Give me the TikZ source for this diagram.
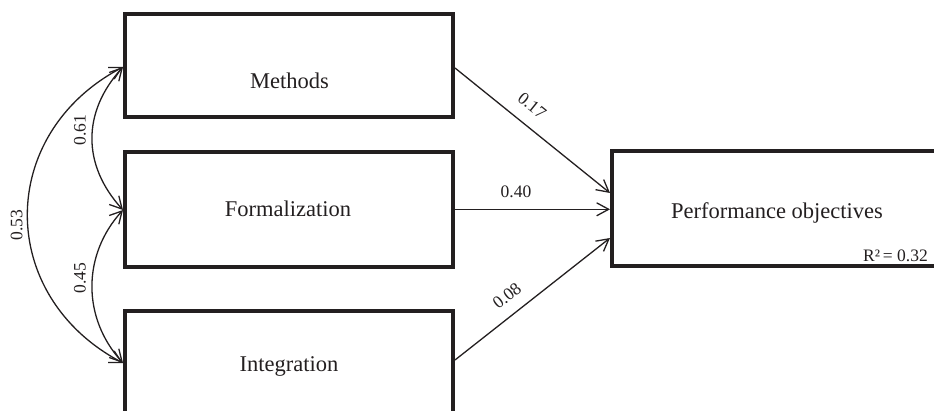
\documentclass[tikz,border=0pt]{standalone}
\usepackage{fontspec}
\setmainfont{Liberation Serif}
\usetikzlibrary{arrows.meta}
\definecolor{ink}{HTML}{231F20}
\tikzset{
  varbox/.style={draw=ink, line width=4pt, rectangle, minimum width=328pt, inner sep=0pt},
  boxtext/.style={anchor=base, inner sep=0pt, text=ink, font=\fontsize{22.5}{26}\selectfont},
  coef/.style={inner sep=0pt, text=ink, font=\fontsize{17.5}{20}\selectfont},
  barb/.tip={Straight Barb[length=12pt, width=13pt, line width=1.3pt]},
  effect/.style={draw=ink, line width=1.3pt, -{barb}},
  covar/.style={draw=ink, line width=1.3pt, {barb}-{barb}}
}
\begin{document}
\begin{tikzpicture}[x=1pt, y=-1pt]
  \useasboundingbox (0,0) rectangle (934,411);
  \clip (0,0) rectangle (934,411);

  % predictor boxes and outcome box
  \node[varbox, minimum height=103pt] (m) at (289,65.5) {};
  \node[varbox, minimum height=114.5pt] (f) at (289,209.3) {};
  \node[varbox, minimum height=104pt] (i) at (289,363) {};
  \node[varbox, minimum height=115pt] (p) at (776,208.5) {};

  \node[boxtext] (mt) at (289.5,88.3) {Methods};
  \node[boxtext] (ft) at (288,216.7) {Formalization};
  \node[boxtext] (it) at (289,371) {Integration};
  \node[boxtext] (pt) at (777,219) {Performance objectives};
  \node[coef, anchor=base east] (r2) at (928,261.7) {R²\,= 0.32};

  % connector end points
  \coordinate (mR) at ([yshift=-2.5pt]m.east);
  \coordinate (iR) at ([yshift=3pt]i.east);
  \coordinate (pA) at ([yshift=15.5pt]p.west);
  \coordinate (pC) at ([yshift=-29.5pt]p.west);
  \coordinate (mL) at ([yshift=-1.5pt]m.west);
  \coordinate (fL) at ([yshift=-0.7pt]f.west);
  \coordinate (iL) at (i.west);

  % direct effects
  \draw[effect] (mR) -- (pA);
  \draw[effect] (f.east) -- (f.east -| p.west);
  \draw[effect] (iR) -- (pC);

  % correlations between predictors
  \draw[covar] (mL) .. controls +(-41,45) and +(-41,-45) .. (fL);
  \draw[covar] (fL) .. controls +(-41,45) and +(-41,-45) .. (iL);
  \draw[covar] (mL) .. controls +(-127,67) and +(-127,-67) .. (iL);

  % coefficients
  \node[coef, rotate=-38.9] (c17) at (532,105.5) {0.17};
  \node[coef] (c40) at (516,191.5) {0.40};
  \node[coef, rotate=38.2] (c08) at (507,296) {0.08};
  \node[coef, rotate=90] (c61) at (80,130) {0.61};
  \node[coef, rotate=90] (c45) at (80,278) {0.45};
  \node[coef, rotate=90] (c53) at (16.7,225) {0.53};
\end{tikzpicture}
\end{document}
